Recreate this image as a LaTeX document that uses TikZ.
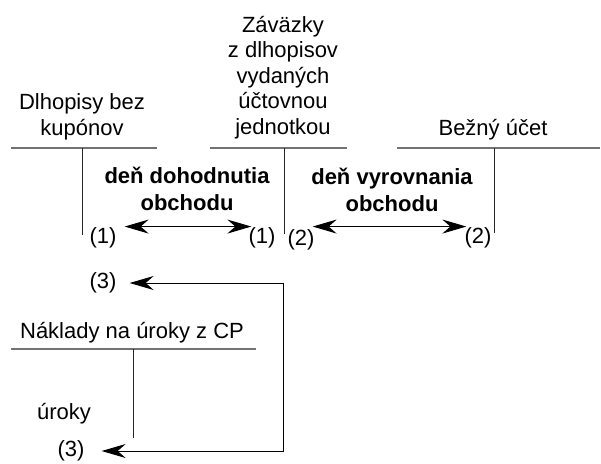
\documentclass[tikz,border=0pt]{standalone}
\usepackage{fontspec}
\setmainfont{Liberation Sans}
\usetikzlibrary{arrows.meta,positioning}
\definecolor{rulegray}{gray}{0.45}

\begin{document}
\begin{tikzpicture}[x=1pt,y=-1pt,
    hline/.style={rulegray,line width=1.1pt},
    vline/.style={black!85,line width=1pt},
    lbl/.style={inner sep=0pt,font=\fontsize{22}{25.5}\selectfont,align=center},
    hd/.style={inner sep=0pt,font=\fontsize{22}{26.5}\selectfont\bfseries,align=center},
    tip/.style={Stealth[length=24pt,width=14pt,inset=8pt]},
    arr/.style={line width=1pt,{Stealth[length=24pt,width=14pt,inset=8pt]}-{Stealth[length=24pt,width=14pt,inset=8pt]}}]
  \useasboundingbox (0,0) rectangle (601,463);
  \def\ytop{148}

  \draw[hline] (11,\ytop) -- (157,\ytop);
  \draw[vline] (82,\ytop) -- (82,235);
  \draw[hline] (210,\ytop) -- (347,\ytop);
  \draw[vline] (284,\ytop) -- (284,234);
  \draw[hline] (397,\ytop) -- (600,\ytop);
  \draw[vline] (494,\ytop) -- (494,233);
  \draw[hline] (11,349) -- (256,349);
  \draw[vline] (133,349) -- (133,438);

  \node[lbl,anchor=south] (bonds) at (82,140) {Dlhopisy bez\\kupónov};
  \node[lbl,anchor=south] (liab) at (283,139) {Záväzky\\z dlhopisov\\vydaných\\účtovnou\\jednotkou};
  \node[lbl,anchor=south] (cash) at (493,140) {Bežný účet};
  \node[lbl,anchor=south] (cost) at (132,343) {Náklady na úroky z CP};

  \node[hd] (trade) at (187,189) {deň dohodnutia\\obchodu};
  \node[hd] (settle) at (392,190) {deň vyrovnania\\obchodu};

  \node[lbl] (l1) at (103,238) {(1)};
  \node[lbl] (r1) at (262,238) {(1)};
  \node[lbl] (l2) at (301,240) {(2)};
  \node[lbl] (r2) at (478,238) {(2)};
  \node[lbl] (t3) at (103,283) {(3)};
  \node[lbl] (b3) at (71,451) {(3)};
  \node[lbl] (int) at (64,414) {úroky};
  \coordinate (turn) at (283,283);

  \draw[arr] ([xshift=8pt,yshift=1pt]l1.north east) -- ([xshift=3pt,yshift=1pt]r1.north west);
  \draw[arr] ([xshift=-2pt,yshift=3pt]l2.north east) -- ([xshift=2pt,yshift=1pt]r2.north west);
  \draw[arr] ([xshift=13pt]t3.east) -| (turn |- b3.east) -- ([xshift=17pt]b3.east);
\end{tikzpicture}
\end{document}
